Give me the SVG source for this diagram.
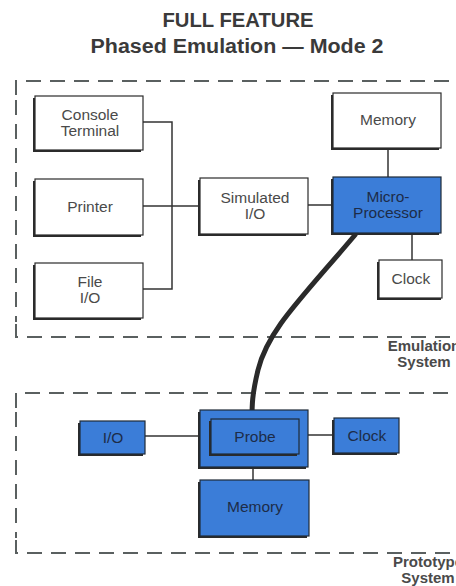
<svg xmlns="http://www.w3.org/2000/svg" width="456" height="586" viewBox="0 0 456 586">
<style>
.title{font-family:"Liberation Sans",Arial,sans-serif;font-weight:bold;font-size:20px;fill:#3a3a3a;text-anchor:middle}
.lbl{font-family:"Liberation Sans",Arial,sans-serif;font-size:15.5px;fill:#4a4a4a;text-anchor:middle}
.blbl{font-family:"Liberation Sans",Arial,sans-serif;font-size:15.5px;fill:#1d2c48;text-anchor:middle}
.sys{font-family:"Liberation Sans",Arial,sans-serif;font-weight:bold;font-size:15px;fill:#4a4a4a;text-anchor:middle}
.box{fill:#fff;stroke:#2b2b2b;stroke-width:1.2}
.bbox{fill:#3b7dd8;stroke:#1f2a38;stroke-width:1.2}
.sh{fill:#2b2b2b}
.dash{fill:none;stroke:#5a6060;stroke-width:2;stroke-dasharray:15 9}
.ln{fill:none;stroke:#333;stroke-width:1.5}
.cable{fill:none;stroke:#2a2a2a;stroke-width:5;stroke-linecap:round}
</style>
<rect width="456" height="586" fill="#fff"/>
<text class="title" x="238" y="27" textLength="151" lengthAdjust="spacingAndGlyphs">FULL FEATURE</text>
<text class="title" x="237" y="53" textLength="293" lengthAdjust="spacingAndGlyphs">Phased Emulation — Mode 2</text>

<g id="emulation-system">
<path class="dash" d="M16 95 V81 H470"/>
<path class="dash" d="M16 100 V322" stroke-dasharray="14 11"/>
<path class="dash" d="M16 324 V337 H470"/>
<text class="sys" x="424" y="351">Emulation</text>
<text class="sys" x="424" y="367">System</text>
</g>
<g id="prototype-system">
<path class="dash" d="M16 408 V393 H470"/>
<path class="dash" d="M16 412 V538" stroke-dasharray="14 11"/>
<path class="dash" d="M16 540 V553 H470"/>
<text class="sys" x="428" y="567">Prototype</text>
<text class="sys" x="428" y="583">System</text>
</g>

<g id="connectors">
<path class="ln" d="M143 122 H172 V289 H143"/>
<path class="ln" d="M143 206 H200"/>
<path class="ln" d="M308 205 H334"/>
<path class="ln" d="M388 148 V177"/>
<path class="ln" d="M412 233 V260"/>
<path class="cable" d="M355 235 C300 300 268 330 258 370 C252 395 252 405 252 419"/>
<path class="ln" d="M145 436 H200"/>
<path class="ln" d="M308 435 H334"/>
<path class="ln" d="M253 467 V480"/>
</g>

<g id="console-terminal">
<rect class="sh" x="33" y="98" width="108" height="54"/>
<rect class="box" x="35" y="96" width="108" height="54"/>
<text class="lbl" x="90" y="120">Console</text>
<text class="lbl" x="90" y="136">Terminal</text>
</g>
<g id="printer">
<rect class="sh" x="33" y="181" width="108" height="56"/>
<rect class="box" x="35" y="179" width="108" height="56"/>
<text class="lbl" x="90" y="212">Printer</text>
</g>
<g id="file-io">
<rect class="sh" x="33" y="265" width="108" height="55"/>
<rect class="box" x="35" y="263" width="108" height="55"/>
<text class="lbl" x="90" y="287">File</text>
<text class="lbl" x="90" y="303">I/O</text>
</g>
<g id="simulated-io">
<rect class="sh" x="198" y="180" width="108" height="56"/>
<rect class="box" x="200" y="178" width="108" height="56"/>
<text class="lbl" x="255" y="203">Simulated</text>
<text class="lbl" x="255" y="219">I/O</text>
</g>
<g id="memory-emu">
<rect class="sh" x="331" y="95" width="108" height="55"/>
<rect class="box" x="333" y="93" width="108" height="55"/>
<text class="lbl" x="388" y="125">Memory</text>
</g>
<g id="microprocessor">
<rect class="sh" x="331" y="179" width="108" height="56"/>
<rect class="bbox" x="333" y="177" width="108" height="56"/>
<text class="blbl" x="388" y="202">Micro-</text>
<text class="blbl" x="388" y="218">Processor</text>
</g>
<g id="clock-emu">
<rect class="sh" x="377" y="262" width="64" height="38"/>
<rect class="box" x="379" y="260" width="63" height="38"/>
<text class="lbl" x="411" y="284">Clock</text>
</g>

<g id="io-proto">
<rect class="sh" x="78" y="423" width="65" height="33"/>
<rect class="bbox" x="80" y="421" width="65" height="33"/>
<text class="blbl" x="113" y="443">I/O</text>
</g>
<g id="probe">
<rect class="sh" x="198" y="412" width="108" height="57"/>
<rect class="bbox" x="200" y="410" width="108" height="57"/>
<rect class="sh" x="209" y="421" width="88" height="35"/>
<rect class="bbox" x="211" y="419" width="88" height="35"/>
<text class="blbl" x="255" y="442">Probe</text>
</g>
<g id="clock-proto">
<rect class="sh" x="332" y="420" width="65" height="35"/>
<rect class="bbox" x="334" y="418" width="65" height="35"/>
<text class="blbl" x="367" y="441">Clock</text>
</g>
<g id="memory-proto">
<rect class="sh" x="198" y="482" width="109" height="56"/>
<rect class="bbox" x="200" y="480" width="109" height="56"/>
<text class="blbl" x="255" y="512">Memory</text>
</g>
</svg>
